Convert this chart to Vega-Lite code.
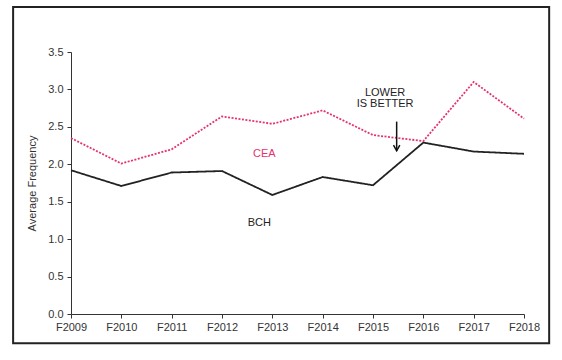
{
  "$schema": "https://vega.github.io/schema/vega-lite/v6.json",
  "autosize": "none",
  "width": 453,
  "height": 262,
  "padding": {"left": 71, "top": 52, "right": 38, "bottom": 46},
  "background": "white",
  "config": {
    "view": {"stroke": null},
    "font": "Liberation Sans",
    "axis": {"labelFont": "Liberation Sans", "titleFont": "Liberation Sans", "labelFontSize": 11, "labelColor": "#333", "domainColor": "#333", "tickColor": "#333", "grid": false, "tickSize": 4, "titleFontWeight": "normal", "titleColor": "#333", "titleFontSize": 11, "labelOverlap": false}
  },
  "datasets": {
    "series": [
      {"year": 2009, "series": "BCH", "value": 1.92},
      {"year": 2010, "series": "BCH", "value": 1.71},
      {"year": 2011, "series": "BCH", "value": 1.89},
      {"year": 2012, "series": "BCH", "value": 1.91},
      {"year": 2013, "series": "BCH", "value": 1.59},
      {"year": 2014, "series": "BCH", "value": 1.83},
      {"year": 2015, "series": "BCH", "value": 1.72},
      {"year": 2016, "series": "BCH", "value": 2.29},
      {"year": 2017, "series": "BCH", "value": 2.17},
      {"year": 2018, "series": "BCH", "value": 2.14},
      {"year": 2009, "series": "CEA", "value": 2.35},
      {"year": 2010, "series": "CEA", "value": 2.01},
      {"year": 2011, "series": "CEA", "value": 2.2},
      {"year": 2012, "series": "CEA", "value": 2.64},
      {"year": 2013, "series": "CEA", "value": 2.54},
      {"year": 2014, "series": "CEA", "value": 2.72},
      {"year": 2015, "series": "CEA", "value": 2.39},
      {"year": 2016, "series": "CEA", "value": 2.31},
      {"year": 2017, "series": "CEA", "value": 3.1},
      {"year": 2018, "series": "CEA", "value": 2.61}
    ],
    "labels": [
      {"x": 2012.84, "y": 2.14, "text": "CEA", "series": "CEA"},
      {"x": 2012.74, "y": 1.22, "text": "BCH", "series": "BCH"},
      {"x": 2015.24, "y": 2.95, "text": "LOWER", "series": "note"},
      {"x": 2015.24, "y": 2.8, "text": "IS BETTER", "series": "note"}
    ],
    "arrow": [{"x": 2015.47, "y": 2.57, "y2": 2.18}],
    "frame": [{"x": 2007.85, "x2": 2018.5, "y": 4.1, "y2": -0.39}]
  },
  "layer": [
    {
      "data": {"name": "series"},
      "mark": {"type": "line", "strokeWidth": 1.8},
      "encoding": {
        "x": {"field": "year", "type": "quantitative", "scale": {"domain": [2009, 2018], "nice": false, "zero": false},
          "axis": {"title": null, "values": [2009, 2010, 2011, 2012, 2013, 2014, 2015, 2016, 2017, 2018], "labelExpr": "'F' + datum.value", "labelPadding": 3, "labelFlush": false}},
        "y": {"field": "value", "type": "quantitative", "scale": {"domain": [0, 3.5], "nice": false},
          "axis": {"title": "Average Frequency", "values": [0, 0.5, 1, 1.5, 2, 2.5, 3, 3.5], "tickCount": 8, "format": ".1f", "labelPadding": 4, "titlePadding": 10, "labelFlush": false}},
        "color": {"field": "series", "type": "nominal", "scale": {"domain": ["BCH", "CEA"], "range": ["#222222", "#e6336f"]}, "legend": null},
        "strokeDash": {"field": "series", "type": "nominal", "scale": {"domain": ["BCH", "CEA"], "range": [[1, 0], [2, 1.5]]}, "legend": null}
      }
    },
    {
      "data": {"name": "frame"},
      "mark": {"type": "rect", "fill": null, "stroke": "#222", "strokeWidth": 2},
      "encoding": {
        "x": {"field": "x", "type": "quantitative"},
        "x2": {"field": "x2"},
        "y": {"field": "y", "type": "quantitative"},
        "y2": {"field": "y2"}
      }
    },
    {
      "data": {"name": "labels"},
      "mark": {"type": "text", "fontSize": 11, "font": "Liberation Sans"},
      "encoding": {
        "x": {"field": "x", "type": "quantitative"},
        "y": {"field": "y", "type": "quantitative"},
        "text": {"field": "text"},
        "color": {"field": "series", "type": "nominal", "scale": {"domain": ["BCH", "CEA", "note"], "range": ["#222222", "#e6336f", "#222222"]}, "legend": null}
      }
    },
    {
      "data": {"name": "arrow"},
      "mark": {"type": "rule", "color": "#111", "strokeWidth": 1.5},
      "encoding": {
        "x": {"field": "x", "type": "quantitative"},
        "y": {"field": "y", "type": "quantitative"},
        "y2": {"field": "y2"}
      }
    },
    {
      "data": {"name": "arrow"},
      "mark": {"type": "point", "shape": "M -1 -1.8 L 0 0 L 1 -1.8", "filled": false, "stroke": "#111", "strokeWidth": 1.5, "size": 40, "opacity": 1},
      "encoding": {
        "x": {"field": "x", "type": "quantitative"},
        "y": {"field": "y2", "type": "quantitative"}
      }
    }
  ]
}
